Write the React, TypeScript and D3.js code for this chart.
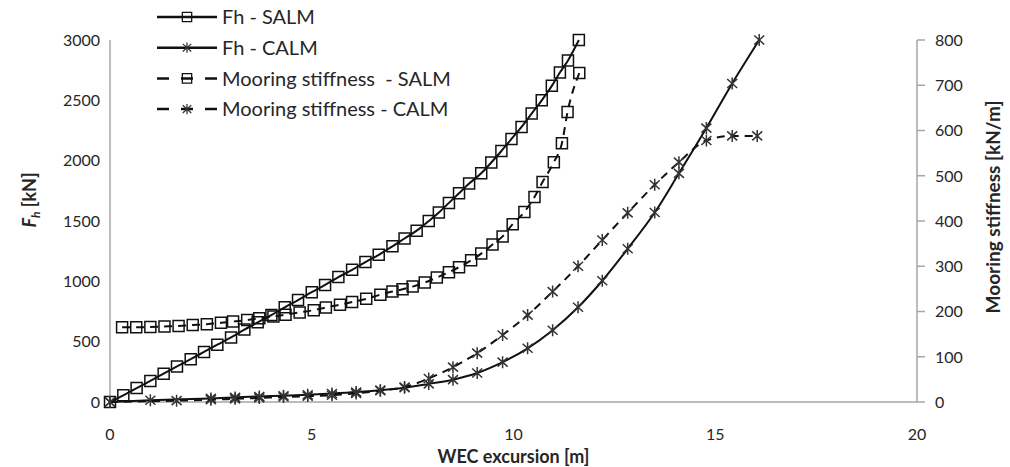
import React, { useRef, useEffect } from 'react';
import * as d3 from 'd3';

// WEC excursion [m] / Fh [kN] – SALM
const fhSalmX = [0, 0.33, 0.66, 1.0, 1.33, 1.66, 2.0, 2.33, 2.66, 3.0, 3.33, 3.66, 4.0, 4.33, 4.66, 5.0, 5.33, 5.66, 6.0, 6.33, 6.66, 7.0, 7.3, 7.6, 7.9, 8.15, 8.4, 8.65, 8.9, 9.2, 9.45, 9.7, 9.95, 10.2, 10.45, 10.7, 10.95, 11.15, 11.35, 11.62];
const fhSalm = [0, 55, 115, 175, 235, 295, 355, 415, 475, 535, 600, 660, 720, 785, 845, 910, 970, 1035, 1095, 1160, 1220, 1290, 1355, 1420, 1500, 1570, 1650, 1730, 1810, 1895, 1985, 2080, 2180, 2280, 2390, 2500, 2620, 2730, 2830, 3000];

// Fh [kN] – CALM
const fhCalmX = [0, 1.0, 2.5, 3.1, 3.7, 4.3, 4.9, 5.5, 6.1, 6.7, 7.3, 7.9, 8.5, 9.1, 9.73, 10.35, 10.97, 11.6, 12.2, 12.83, 13.5, 14.1, 14.78, 15.42, 16.09];
const fhCalm = [0, 15, 30, 38, 46, 52, 60, 70, 82, 98, 118, 150, 185, 240, 330, 445, 595, 785, 1005, 1270, 1570, 1895, 2270, 2640, 3000];

// Mooring stiffness [kN/m] – SALM
const kSalmX = [0.3, 0.65, 1.0, 1.35, 1.7, 2.05, 2.4, 2.75, 3.05, 3.4, 3.7, 4.05, 4.35, 4.7, 5.05, 5.35, 5.7, 6.0, 6.35, 6.7, 7.0, 7.25, 7.5, 7.8, 8.1, 8.4, 8.65, 8.95, 9.2, 9.48, 9.73, 9.98, 10.27, 10.52, 10.72, 11.0, 11.2, 11.34, 11.63];
const kSalm = [165, 165, 166, 167, 168, 170, 172, 175, 178, 181, 185, 189, 193, 198, 203, 209, 215, 221, 228, 237, 244, 249, 255, 264, 275, 287, 298, 313, 328, 348, 366, 393, 420, 453, 486, 530, 572, 641, 727];

// Mooring stiffness [kN/m] – CALM
const kCalmX = [0, 1.65, 2.5, 3.1, 3.7, 4.3, 4.9, 5.5, 6.1, 6.7, 7.3, 7.9, 8.5, 9.1, 9.73, 10.35, 10.97, 11.6, 12.2, 12.83, 13.5, 14.1, 14.78, 15.42, 16.04];
const kCalm = [0, 3, 5, 7, 9, 11, 13, 15, 19, 25, 33, 52, 77, 108, 148, 192, 244, 300, 358, 418, 480, 530, 578, 588, 588];

const xTicks = [0, 5, 10, 15, 20];
const leftTicks = [0, 500, 1000, 1500, 2000, 2500, 3000];
const rightTicks = [0, 100, 200, 300, 400, 500, 600, 700, 800];

const legendLabels = ["Fh - SALM", "Fh - CALM", "Mooring stiffness  - SALM", "Mooring stiffness - CALM"];

const FONT = "Lato, 'Open Sans', sans-serif";

export default function App() {
  const ref = useRef(null);
  const width = 1010;
  const height = 467;

  useEffect(() => {
    const svg = d3.select(ref.current);
    svg.selectAll("*").remove();

    const margin = { top: 40, right: 93, bottom: 65, left: 110 };
    const innerWidth = width - margin.left - margin.right;
    const innerHeight = height - margin.top - margin.bottom;

    const x = d3.scaleLinear().domain([0, 20]).range([0, innerWidth]);
    const yL = d3.scaleLinear().domain([0, 3000]).range([innerHeight, 0]);
    const yR = d3.scaleLinear().domain([0, 800]).range([innerHeight, 0]);

    const g = svg.append("g")
      .attr("transform", `translate(${margin.left},${margin.top})`);

    const axisColor = "#a6a6a6";
    const textColor = "#262626";

    // axes lines
    g.append("line")
      .attr("x1", 0).attr("x2", 0).attr("y1", 0).attr("y2", innerHeight)
      .attr("stroke", axisColor).attr("stroke-width", 1.5);
    g.append("line")
      .attr("x1", 0).attr("x2", innerWidth).attr("y1", innerHeight).attr("y2", innerHeight)
      .attr("stroke", axisColor).attr("stroke-width", 1.5);

    // right axis, ticks outside
    const right = g.append("g").attr("transform", `translate(${innerWidth},0)`);
    right.append("line")
      .attr("y1", 0).attr("y2", innerHeight)
      .attr("stroke", axisColor).attr("stroke-width", 1.5);
    rightTicks.forEach(t => {
      right.append("line")
        .attr("x1", 0).attr("x2", 8).attr("y1", yR(t)).attr("y2", yR(t))
        .attr("stroke", axisColor).attr("stroke-width", 1.5);
      right.append("text")
        .attr("x", 18).attr("y", yR(t)).attr("dy", "0.36em")
        .attr("font-family", FONT).attr("font-size", 16).attr("fill", textColor)
        .text(t);
    });

    leftTicks.forEach(t => {
      g.append("text")
        .attr("x", -10).attr("y", yL(t)).attr("dy", "0.36em")
        .attr("text-anchor", "end")
        .attr("font-family", FONT).attr("font-size", 16).attr("fill", textColor)
        .text(t);
    });

    xTicks.forEach(t => {
      g.append("text")
        .attr("x", x(t)).attr("y", innerHeight + 38)
        .attr("text-anchor", "middle")
        .attr("font-family", FONT).attr("font-size", 16).attr("fill", textColor)
        .text(t);
    });

    // axis titles
    g.append("text")
      .attr("x", innerWidth / 2).attr("y", innerHeight + 61)
      .attr("text-anchor", "middle")
      .attr("font-family", FONT).attr("font-size", 18).attr("font-weight", "bold").attr("fill", textColor)
      .text("WEC excursion [m]");

    const lt = g.append("text")
      .attr("transform", `translate(${-74},${innerHeight / 2 - 21}) rotate(-90)`)
      .attr("text-anchor", "middle")
      .attr("font-family", FONT).attr("font-size", 18).attr("font-weight", "bold").attr("fill", textColor);
    lt.append("tspan").attr("font-style", "italic").text("F");
    lt.append("tspan").attr("font-style", "italic").attr("font-size", 12).attr("dy", 4).text("h");
    lt.append("tspan").attr("dy", -4).text(" [kN]");

    g.append("text")
      .attr("transform", `translate(${innerWidth + 83},${innerHeight / 2 - 14}) rotate(-90)`)
      .attr("text-anchor", "middle")
      .attr("font-family", FONT).attr("font-size", 19).attr("font-weight", "bold").attr("fill", textColor)
      .text("Mooring stiffness [kN/m]");

    const square = "M-5.5,-5.5H5.5V5.5H-5.5Z";
    const star = "M0,-6V6M-5,-4.5L5,4.5M-5,4.5L5,-4.5";

    const series = [
      { xs: fhSalmX, ys: fhSalm, y: yL, dash: null, marker: square },
      { xs: fhCalmX, ys: fhCalm, y: yL, dash: null, marker: star },
      { xs: kSalmX, ys: kSalm, y: yR, dash: "8,6", marker: square },
      { xs: kCalmX, ys: kCalm, y: yR, dash: "8,6", marker: star },
    ];

    series.forEach(s => {
      const pts = s.xs.map((v, i) => [v, s.ys[i]]);
      const line = d3.line()
        .x(d => x(d[0]))
        .y(d => s.y(d[1]))
        .curve(d3.curveMonotoneX);
      g.append("path")
        .datum(pts)
        .attr("d", line)
        .attr("fill", "none")
        .attr("stroke", "#111")
        .attr("stroke-width", 2)
        .attr("stroke-dasharray", s.dash);
      g.append("g")
        .selectAll("path")
        .data(pts)
        .enter()
        .append("path")
        .attr("transform", d => `translate(${x(d[0])},${s.y(d[1])})`)
        .attr("d", s.marker)
        .attr("fill", "none")
        .attr("stroke", s.marker === star ? "#333" : "#111")
        .attr("stroke-width", 1.5);
    });

    // legend
    const legend = svg.append("g").attr("transform", "translate(157,17)");
    legendLabels.forEach((label, i) => {
      const s = series[i];
      const row = legend.append("g").attr("transform", `translate(0,${i * 30.7})`);
      row.append("line")
        .attr("x1", 0).attr("x2", 60).attr("y1", 0).attr("y2", 0)
        .attr("stroke", "#111").attr("stroke-width", 2.5)
        .attr("stroke-dasharray", s.dash ? "12,12" : null);
      row.append("path")
        .attr("transform", "translate(30,0) scale(0.85)")
        .attr("d", s.marker)
        .attr("fill", "none")
        .attr("stroke", s.marker === star ? "#333" : "#111")
        .attr("stroke-width", 1.5);
      row.append("text")
        .attr("x", 65).attr("y", 0).attr("dy", "0.36em")
        .attr("font-family", FONT).attr("font-size", 20).attr("fill", textColor)
        .style("white-space", "pre")
        .text(label);
    });
  }, []);

  return (
    <svg ref={ref} width={width} height={height}
      style={{ position: "absolute", left: 0, top: 0, background: "white" }} />
  );
}
